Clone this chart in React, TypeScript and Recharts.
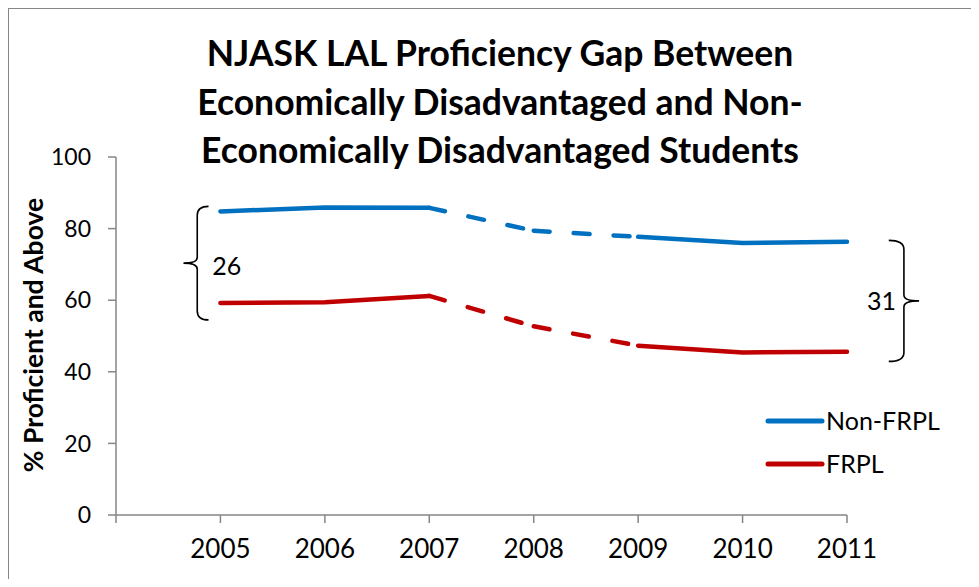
import React from "react";
import {
  LineChart,
  Line,
  XAxis,
  YAxis,
  Legend,
  ReferenceArea,
} from "recharts";

const years = [2005, 2006, 2007, 2008, 2009, 2010, 2011];
const nonFrpl = [84.8, 85.9, 85.8, 79.4, 77.7, 76.0, 76.3];
const frpl = [59.2, 59.4, 61.2, 52.7, 47.3, 45.4, 45.6];
// year with estimated data: segments touching it are dashed
const estimatedYear = 2008;
const gapLabels = ["26", "31"];
const seriesNames = ["Non-FRPL", "FRPL"];
const yTicks = [0, 20, 40, 60, 80, 100];
const titleLines = [
  "NJASK LAL Proficiency Gap Between",
  "Economically Disadvantaged and Non-",
  "Economically Disadvantaged Students",
];

const BLUE = "#0070C0";
const RED = "#C00000";
const AXIS = "#868686";
const FONT = "Lato, 'Open Sans', sans-serif";

const W = 962;
const H = 570;

const estIdx = years.indexOf(estimatedYear);
const chartData = years.map((year, i) => {
  const inA = i === estIdx - 1 || i === estIdx;
  const inB = i === estIdx || i === estIdx + 1;
  return {
    year,
    nonSolid: i === estIdx ? null : nonFrpl[i],
    nonDashA: inA ? nonFrpl[i] : null,
    nonDashB: inB ? nonFrpl[i] : null,
    frplSolid: i === estIdx ? null : frpl[i],
    frplDashA: inA ? frpl[i] : null,
    frplDashB: inB ? frpl[i] : null,
  };
});

const xTicks = [years[0] - 1, ...years];

function braceShape(side: "left" | "right", label: string) {
  return (props: any) => {
    const { x, y, width, height } = props;
    const yt = y;
    const yb = y + height;
    const ym = y + height / 2;
    const r = 9;
    const r2 = 6;
    let d: string;
    let tx: number;
    let anchor: "start" | "end";
    if (side === "left") {
      const xt = x;
      const xe = x + width;
      const xv = x + width * 0.55;
      d = `M${xe},${yt} Q${xv},${yt} ${xv},${yt + r} L${xv},${ym - r2} Q${xv},${ym} ${xt},${ym} Q${xv},${ym} ${xv},${ym + r2} L${xv},${yb - r} Q${xv},${yb} ${xe},${yb}`;
      tx = xv + 15;
      anchor = "start";
    } else {
      const xe = x;
      const xt = x + width;
      const xv = x + width * 0.5;
      d = `M${xe},${yt} Q${xv},${yt} ${xv},${yt + r} L${xv},${ym - r2} Q${xv},${ym} ${xt},${ym} Q${xv},${ym} ${xv},${ym + r2} L${xv},${yb - r} Q${xv},${yb} ${xe},${yb}`;
      tx = xv - 8;
      anchor = "end";
    }
    return (
      <g>
        <path d={d} fill="none" stroke="#000" strokeWidth={1.6} />
        <text
          x={tx}
          y={side === "left" ? ym + 12 : ym + 9}
          textAnchor={anchor}
          fontFamily={FONT}
          fontSize={25}
          fill="#000"
        >
          {label}
        </text>
      </g>
    );
  };
}

function renderLegend(props: any) {
  const items = (props.payload || [])
    .filter((p: any) => p.type !== "none")
    .sort(
      (a: any, b: any) =>
        seriesNames.indexOf(a.value) - seriesNames.indexOf(b.value)
    );
  return (
    <svg width={200} height={90}>
      {items.map((p: any, i: number) => (
        <g key={p.value}>
          <line
            x1={4}
            x2={58}
            y1={17 + i * 43}
            y2={17 + i * 43}
            stroke={p.color}
            strokeWidth={5}
            strokeLinecap="round"
          />
          <text x={62} y={26 + i * 43} fontFamily={FONT} fontSize={25} fill="#000">
            {p.value}
          </text>
        </g>
      ))}
    </svg>
  );
}

export default function App() {
  const lineProps = {
    type: "linear" as const,
    strokeWidth: 4.5,
    strokeLinecap: "round" as const,
    dot: false,
    activeDot: false,
    isAnimationActive: false,
    connectNulls: false,
  };
  return (
    <div
      style={{
        position: "relative",
        width: W,
        height: H,
        borderTop: `1px solid ${AXIS}`,
        borderLeft: `1px solid ${AXIS}`,
        background: "#fff",
      }}
    >
      <LineChart
        width={W}
        height={H}
        data={chartData}
        margin={{ top: 148, right: 124, bottom: 34, left: 40 }}
      >
        <XAxis
          dataKey="year"
          type="number"
          domain={[xTicks[0], years[years.length - 1]]}
          ticks={xTicks}
          interval={0}
          tickFormatter={(v: number) => (v < years[0] ? "" : String(v))}
          height={30}
          tickSize={8}
          tickMargin={17}
          stroke={AXIS}
          strokeWidth={1.5}
          tick={{ fill: "#000", fontSize: 26, fontFamily: FONT }}
        />
        <YAxis
          domain={[0, 100]}
          ticks={yTicks}
          width={67}
          tickSize={8}
          tickMargin={17}
          stroke={AXIS}
          strokeWidth={1.5}
          tick={{ fill: "#000", fontSize: 23, fontFamily: FONT }}
        />
        <Line {...lineProps} dataKey="nonSolid" name={seriesNames[0]} stroke={BLUE} />
        <Line {...lineProps} dataKey="nonDashA" stroke={BLUE} strokeDasharray="16 24" legendType="none" />
        <Line {...lineProps} dataKey="nonDashB" stroke={BLUE} strokeDasharray="16 24" legendType="none" />
        <Line {...lineProps} dataKey="frplSolid" name={seriesNames[1]} stroke={RED} />
        <Line {...lineProps} dataKey="frplDashA" stroke={RED} strokeDasharray="16 24" legendType="none" />
        <Line {...lineProps} dataKey="frplDashB" stroke={RED} strokeDasharray="16 24" legendType="none" />
        <ReferenceArea
          x1={2004.646}
          x2={2004.886}
          y1={54.5}
          y2={86.2}
          ifOverflow="visible"
          shape={braceShape("left", gapLabels[0])}
        />
        <ReferenceArea
          x1={2011.4}
          x2={2011.69}
          y1={42.9}
          y2={76.7}
          ifOverflow="visible"
          shape={braceShape("right", gapLabels[1])}
        />
        <Legend
          layout="vertical"
          align="center"
          verticalAlign="middle"
          content={renderLegend}
          wrapperStyle={{ left: 755, top: 395, width: 200, height: 90 }}
        />
      </LineChart>
      <svg
        width={W}
        height={H}
        style={{ position: "absolute", left: 0, top: 0, pointerEvents: "none" }}
      >
        {titleLines.map((t, i) => (
          <text
            key={t}
            x={491}
            y={57 + i * 48.5}
            textAnchor="middle"
            fontFamily={FONT}
            fontWeight="bold"
            fontSize={35.5}
            fill="#000"
          >
            {t}
          </text>
        ))}
        <text
          transform="translate(34,326) rotate(-90)"
          textAnchor="middle"
          fontFamily={FONT}
          fontWeight="bold"
          fontSize={26.5}
          fill="#000"
        >
          % Proficient and Above
        </text>
      </svg>
    </div>
  );
}
